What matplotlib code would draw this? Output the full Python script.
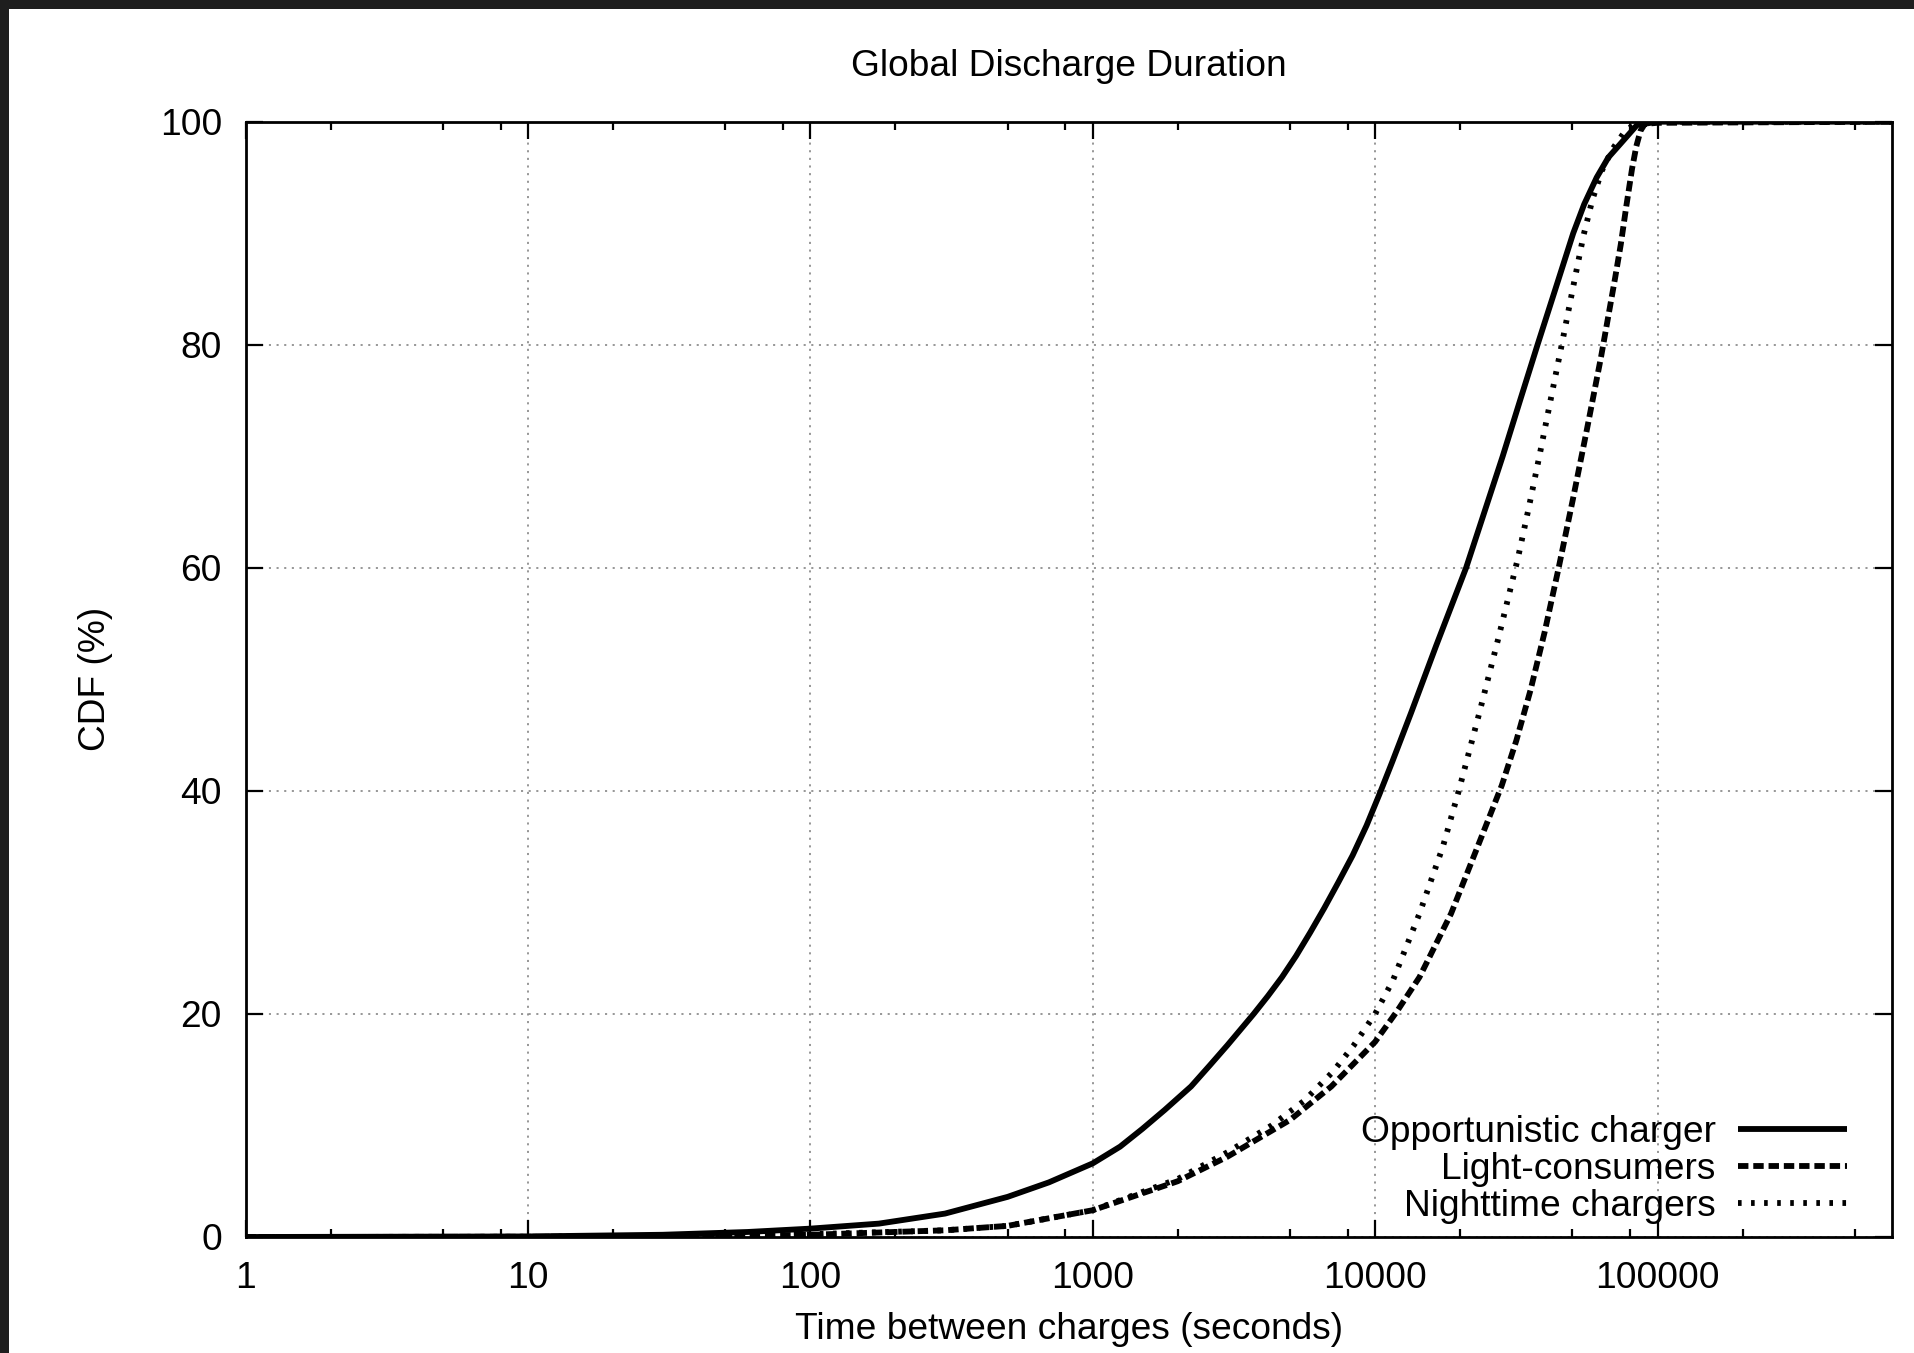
import matplotlib
matplotlib.use("Agg")
import matplotlib.pyplot as plt
from matplotlib.ticker import FixedLocator, LogLocator, NullFormatter
from matplotlib.patches import Rectangle

plt.rcParams['font.family'] = ['Liberation Sans', 'DejaVu Sans']
plt.rcParams['lines.scale_dashes'] = False

FS = 26.7

# CDF of time between charges, per user class (x in seconds, y in %)
opp_x = [1, 10, 30, 60, 100, 175, 300, 500, 700, 1000, 1250, 1500, 1800, 2230,
         2600, 3000, 3715, 4170, 4680, 5250, 5890, 6610, 7410, 8320, 9330,
         10360, 11500, 13410, 16440, 21000, 28300, 32600, 37600, 43500, 50300,
         55000, 60900, 67000, 73800, 84600, 100000, 675000]
opp_y = [0, 0.05, 0.2, 0.45, 0.75, 1.2, 2.1, 3.6, 4.9, 6.6, 8.1, 9.7, 11.4, 13.5,
         15.4, 17.2, 20, 21.6, 23.3, 25.2, 27.3, 29.5, 31.8, 34.2, 36.9,
         39.7, 42.6, 47, 53, 60, 70, 75, 80, 85, 90,
         92.6, 95, 96.8, 98, 99.7, 100, 100]

light_x = [1, 10, 50, 100, 300, 500, 1000, 2000, 3000, 5000, 7000, 10000, 12000,
           14360, 18580, 23070, 28100, 31620, 35480, 39810, 44670, 50120, 56230,
           63100, 70790, 74130, 77620, 81280, 84140, 87100, 90160, 100000, 675000]
light_y = [0, 0.02, 0.1, 0.2, 0.6, 1.0, 2.4, 5.0, 7.2, 10.5, 13.5, 17.5, 20.3,
           23.3, 29, 35, 40.5, 44.5, 49, 54.2, 60, 66.1, 72.4,
           78.9, 86, 89, 92.5, 95.8, 97.8, 99.2, 99.8, 99.9, 100]

night_x = [1, 10, 50, 100, 300, 500, 1000, 2000, 3000, 4300, 5600, 7080, 8410,
           10000, 11560, 14360, 17380, 19780, 23400, 27200, 32000, 35080, 38300,
           42170, 45800, 50100, 54700, 58800, 63500, 69500, 76000, 82000, 87000,
           675000]
night_y = [0, 0.02, 0.1, 0.25, 0.6, 1.0, 2.4, 5.2, 7.6, 10, 12.2, 14.8, 17.2,
           20, 23, 29, 35, 40, 47, 53.5, 60.8, 65.5, 70.2,
           75.5, 80, 85, 89.8, 93, 95.6, 97.6, 99, 99.7, 100,
           100]

series_labels = ["Opportunistic charger", "Light-consumers", "Nighttime chargers"]

xtick_vals = [1, 10, 100, 1000, 10000, 100000]
xtick_labels = ["1", "10", "100", "1000", "10000", "100000"]
ytick_vals = [0, 20, 40, 60, 80, 100]
ytick_labels = ["0", "20", "40", "60", "80", "100"]

W, H = 1915, 1353
fig = plt.figure(figsize=(W / 100, H / 100), dpi=100)
fig.patch.set_facecolor("white")

# dark frame strips along the top and left edges
fig.patches.append(Rectangle((0, 1 - 9 / H), 1, 9 / H, transform=fig.transFigure,
                             facecolor="#1e1e1e", edgecolor="none", zorder=10))
fig.patches.append(Rectangle((0, 0), 9 / W, 1, transform=fig.transFigure,
                             facecolor="#1e1e1e", edgecolor="none", zorder=10))

left, right, top, bottom = 245.5, 1891.7, 121.7, 1237.0
ax = fig.add_axes([left / W, 1 - bottom / H, (right - left) / W, (bottom - top) / H])

lw = 4.2
ax.plot(opp_x, opp_y, color="black", lw=lw, linestyle="-",
        solid_capstyle="butt", solid_joinstyle="round", label=series_labels[0])
ax.plot(light_x, light_y, color="black", lw=lw, linestyle=(0, (7.5, 3.5)),
        dash_capstyle="butt", label=series_labels[1])
ax.plot(night_x, night_y, color="black", lw=lw, linestyle=(0, (2.6, 6.8)),
        dash_capstyle="butt", label=series_labels[2])

ax.set_xscale("log")
ax.set_xlim(1, 675000)
ax.set_ylim(0, 100)

ax.xaxis.set_major_locator(FixedLocator(xtick_vals))
ax.set_xticks(xtick_vals, xtick_labels)
ax.xaxis.set_minor_locator(LogLocator(base=10, subs=[2, 5, 8], numticks=20))
ax.xaxis.set_minor_formatter(NullFormatter())
ax.set_yticks(ytick_vals, ytick_labels)

ax.tick_params(which="both", direction="in", top=True, right=True,
               labelsize=FS, width=1.6, colors="black")
ax.tick_params(which="major", length=12)
ax.tick_params(which="minor", length=6)
ax.tick_params(axis="x", which="major", pad=17)
ax.tick_params(axis="y", which="major", pad=17)

for s in ax.spines.values():
    s.set_linewidth(2.0)
    s.set_color("black")

ax.grid(True, which="major", color="#7a7a7a", linewidth=1.1,
        linestyle=(0, (1.5, 4.0)))
ax.set_axisbelow(True)

leg = ax.legend(loc="lower right", bbox_to_anchor=(0.973, 0.012),
                markerfirst=False, frameon=False, fontsize=FS,
                handlelength=2.95, handletextpad=0.6, labelspacing=0.05,
                borderaxespad=0, borderpad=0)

fig.text(1068.6 / W, 1 - 76 / H, "Global Discharge Duration", fontsize=FS,
         ha="center", va="baseline")
fig.text(1068.6 / W, 1 - 1339 / H, "Time between charges (seconds)",
         fontsize=FS, ha="center", va="baseline")
fig.text(96 / W, 1 - 679 / H, "CDF (%)", fontsize=FS, rotation=90,
         ha="center", va="center")

fig.savefig("out.png", dpi=100, facecolor="white")
